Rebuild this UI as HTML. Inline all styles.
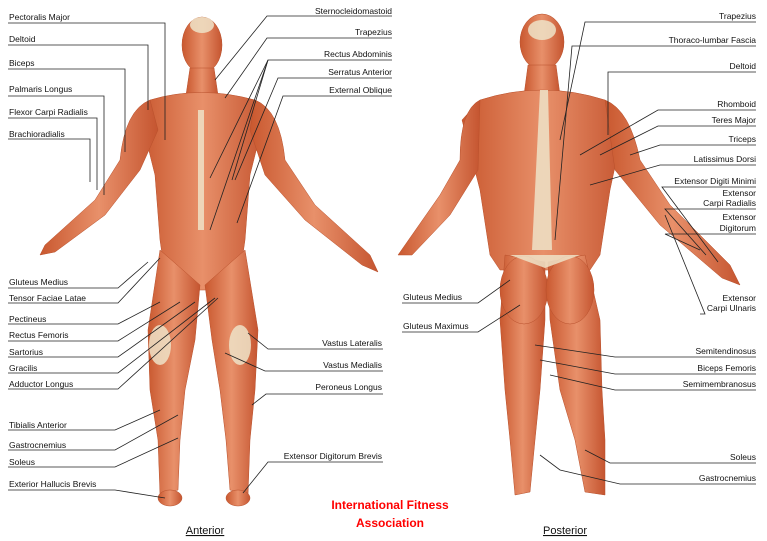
<!DOCTYPE html>
<html><head><meta charset="utf-8"><style>
html,body{margin:0;padding:0;background:#fff;width:767px;height:541px;overflow:hidden}
svg{display:block}
text{font-family:"Liberation Sans",sans-serif;font-size:8.5px;fill:#111}
.r{text-anchor:end}
</style></head><body>
<svg width="767" height="541" viewBox="0 0 767 541">
<defs>
<linearGradient id="m" x1="0" x2="1"><stop offset="0" stop-color="#c9582f"/><stop offset=".5" stop-color="#e8906a"/><stop offset="1" stop-color="#c55530"/></linearGradient>
</defs>
<g fill="url(#m)" stroke="#b8502c" stroke-width=".5">
<!-- Anterior -->
<ellipse cx="202" cy="45" rx="20" ry="28"/>
<path d="M190 68 L214 68 L218 95 L186 95Z"/>
<path d="M150 100 Q200 85 255 100 L265 115 L250 175 L245 240 L240 275 L210 290 L195 290 L165 275 L160 240 L155 175 L140 115Z"/>
<path d="M150 100 Q125 110 120 160 L95 200 L45 245 L40 255 L55 252 L105 215 L140 170 L158 130Z"/>
<path d="M255 100 Q280 110 285 160 L315 205 L370 255 L378 272 L362 265 L305 220 L265 175 L250 130Z"/>
<path d="M160 250 L200 285 L195 340 L185 390 L180 440 L178 490 L160 495 L158 440 L150 390 L148 330Z"/>
<path d="M245 250 L205 285 L212 340 L220 390 L226 440 L230 490 L248 495 L250 440 L255 390 L258 330Z"/>
<ellipse cx="170" cy="498" rx="12" ry="8"/><ellipse cx="238" cy="498" rx="12" ry="8"/>
<!-- Posterior -->
<ellipse cx="542" cy="42" rx="22" ry="28"/>
<path d="M528 65 L556 65 L560 95 L524 95Z"/>
<path d="M480 100 Q542 80 605 100 L625 120 L610 190 L600 255 L590 270 L500 270 L490 255 L480 190 L462 120Z"/>
<path d="M480 100 Q460 110 460 160 L440 195 L405 245 L398 255 L412 255 L450 215 L478 170Z"/>
<path d="M605 100 Q630 110 640 160 L670 205 L730 265 L740 285 L722 278 L660 225 L615 170Z"/>
<path d="M505 255 L545 262 L545 320 L540 390 L535 440 L530 492 L515 495 L510 440 L505 390 L500 320Z"/>
<path d="M585 255 L548 262 L550 320 L560 390 L575 440 L585 492 L605 495 L605 440 L602 390 L600 320Z"/>
<ellipse cx="524" cy="290" rx="24" ry="34"/><ellipse cx="570" cy="290" rx="24" ry="34"/>
</g>
<g fill="#efe3c8" opacity=".85">
<rect x="198" y="110" width="6" height="120"/>
<ellipse cx="160" cy="345" rx="11" ry="20"/><ellipse cx="240" cy="345" rx="11" ry="20"/>
<path d="M540 90 L548 90 L552 250 L532 250Z"/>
<path d="M510 255 L580 255 L545 268Z"/>
<ellipse cx="542" cy="30" rx="14" ry="10"/><ellipse cx="202" cy="25" rx="12" ry="8"/>
</g>
<g stroke="#222" stroke-width=".8" fill="none">
<path d="M8 23 H165 V140"/><path d="M8 45 H148 V110"/><path d="M8 69 H125 V152"/>
<path d="M8 96 H104 V195"/><path d="M8 118 H97 V190"/><path d="M8 139 H90 V182"/>
<path d="M8 288 H118 L148 262"/><path d="M8 303 H118 L160 258"/><path d="M8 324 H118 L160 302"/>
<path d="M8 341 H118 L180 302"/><path d="M8 357 H118 L195 302"/><path d="M8 373 H118 L215 298"/>
<path d="M8 389 H118 L218 298"/><path d="M8 430 H115 L160 410"/><path d="M8 450 H115 L178 415"/>
<path d="M8 467 H115 L178 438"/><path d="M8 490 H115 L165 498"/>
<path d="M392 16 H267 L215 80"/><path d="M392 38 H267 L225 98"/><path d="M392 60 H268 L210 178"/>
<path d="M268 60 L232 180"/><path d="M268 60 L210 230"/><path d="M392 78 H278 L235 180"/>
<path d="M392 96 H283 L237 223"/><path d="M383 349 H268 L248 333"/><path d="M383 371 H265 L225 353"/>
<path d="M383 394 H266 L252 405"/><path d="M383 462 H268 L243 493"/>
<path d="M756 22 H585 L560 140"/><path d="M756 46 H572 L555 240"/><path d="M756 72 H608 V135"/>
<path d="M756 110 H658 L580 155"/><path d="M756 126 H658 L600 155"/><path d="M756 145 H660 L630 155"/>
<path d="M756 165 H660 L590 185"/><path d="M756 187 H662 L718 262"/><path d="M756 209 H665 L706 255"/>
<path d="M756 234 H665 L700 250"/><path d="M700 314 H705 L665 215"/>
<path d="M402 303 H478 L510 280"/><path d="M402 332 H478 L520 305"/>
<path d="M756 357 H615 L535 345"/><path d="M756 374 H615 L540 360"/><path d="M756 390 H615 L550 375"/>
<path d="M756 463 H610 L585 450"/><path d="M756 484 H620 L560 470 L540 455"/>
</g>
<text x="9" y="20">Pectoralis Major</text><text x="9" y="42">Deltoid</text><text x="9" y="66">Biceps</text>
<text x="9" y="92">Palmaris Longus</text><text x="9" y="115">Flexor Carpi Radialis</text><text x="9" y="137">Brachioradialis</text>
<text x="9" y="285">Gluteus Medius</text><text x="9" y="301">Tensor Faciae Latae</text><text x="9" y="322">Pectineus</text>
<text x="9" y="338">Rectus Femoris</text><text x="9" y="355">Sartorius</text><text x="9" y="371">Gracilis</text>
<text x="9" y="387">Adductor Longus</text><text x="9" y="428">Tibialis Anterior</text><text x="9" y="448">Gastrocnemius</text>
<text x="9" y="465">Soleus</text><text x="9" y="487">Exterior Hallucis Brevis</text>
<text class="r" x="392" y="14">Sternocleidomastoid</text><text class="r" x="392" y="35">Trapezius</text>
<text class="r" x="392" y="57">Rectus Abdominis</text><text class="r" x="392" y="75">Serratus Anterior</text>
<text class="r" x="392" y="93">External Oblique</text><text class="r" x="382" y="346">Vastus Lateralis</text>
<text class="r" x="382" y="368">Vastus Medialis</text><text class="r" x="382" y="390">Peroneus Longus</text>
<text class="r" x="382" y="459">Extensor Digitorum Brevis</text>
<text class="r" x="756" y="19">Trapezius</text><text class="r" x="756" y="43">Thoraco-lumbar Fascia</text>
<text class="r" x="756" y="69">Deltoid</text><text class="r" x="756" y="107">Rhomboid</text>
<text class="r" x="756" y="123">Teres Major</text><text class="r" x="756" y="142">Triceps</text>
<text class="r" x="756" y="162">Latissimus Dorsi</text><text class="r" x="756" y="184">Extensor Digiti Minimi</text>
<text class="r" x="756" y="196">Extensor</text><text class="r" x="756" y="206">Carpi Radialis</text>
<text class="r" x="756" y="220">Extensor</text><text class="r" x="756" y="231">Digitorum</text>
<text class="r" x="756" y="301">Extensor</text><text class="r" x="756" y="311">Carpi Ulnaris</text>
<text x="403" y="300">Gluteus Medius</text><text x="403" y="329">Gluteus Maximus</text>
<text class="r" x="756" y="354">Semitendinosus</text><text class="r" x="756" y="371">Biceps Femoris</text>
<text class="r" x="756" y="387">Semimembranosus</text><text class="r" x="756" y="460">Soleus</text>
<text class="r" x="756" y="481">Gastrocnemius</text>
<text x="390" y="509" text-anchor="middle" style="fill:#f00;font-weight:bold;font-size:12px">International Fitness</text>
<text x="390" y="527" text-anchor="middle" style="fill:#f00;font-weight:bold;font-size:12px">Association</text>
<text x="205" y="534" text-anchor="middle" style="font-size:11px;text-decoration:underline">Anterior</text>
<text x="565" y="534" text-anchor="middle" style="font-size:11px;text-decoration:underline">Posterior</text>
</svg>
</body></html>
